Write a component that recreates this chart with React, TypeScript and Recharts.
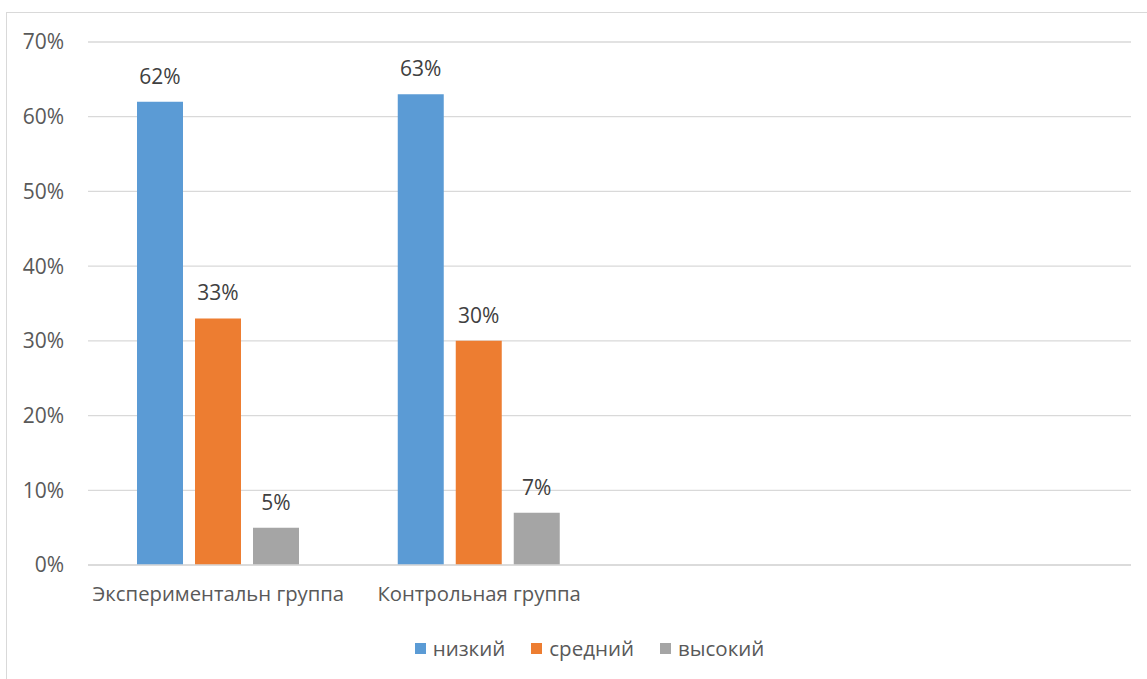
import { BarChart, Bar, XAxis, YAxis, CartesianGrid, LabelList } from "recharts";

// categories (the last two are empty slots in the source sheet)
const categories = ["Экспериментальн группа", "Контрольная группа", "", ""];
const low = [62, 63, null, null];
const medium = [33, 30, null, null];
const high = [5, 7, null, null];
const yTicks = [0, 10, 20, 30, 40, 50, 60, 70];

const series = [
  { key: "low", name: "низкий", color: "#5b9bd5" },
  { key: "medium", name: "средний", color: "#ed7d31" },
  { key: "high", name: "высокий", color: "#a5a5a5" },
];

const data = categories.map((c, i) => ({
  category: c,
  low: low[i],
  medium: medium[i],
  high: high[i],
}));

const FONT = "'Open Sans', sans-serif";
const TEXT = "#595959";

const pct = (v: unknown) => (v == null ? "" : `${v}%`);

function LegendBox() {
  return (
    <div
      style={{
        position: "absolute",
        left: 32,
        top: 634,
        width: 1115,
        display: "flex",
        justifyContent: "center",
        alignItems: "center",
        fontFamily: FONT,
        fontSize: 20.5,
        color: TEXT,
        gap: 26,
      }}
    >
      {series.map((s) => (
        <div key={s.key} style={{ display: "flex", alignItems: "center" }}>
          <span
            style={{ width: 11, height: 11, background: s.color, marginRight: 7, display: "inline-block" }}
          />
          <span>{s.name}</span>
        </div>
      ))}
    </div>
  );
}

export default function App() {
  return (
    <div
      style={{
        position: "fixed",
        left: 0,
        top: 0,
        width: 1147,
        height: 679,
        overflow: "hidden",
        background: "#fff",
      }}
    >
      <div
        style={{
          position: "absolute",
          left: 6,
          top: 12,
          width: 1200,
          height: 700,
          border: "1px solid #d9d9d9",
        }}
      />
      <div style={{ position: "absolute", left: 0, top: 0 }}>
        <BarChart
          width={1147}
          height={679}
          data={data}
          margin={{ top: 42, right: 16, bottom: 0, left: 0 }}
          barGap={12}
        >
          <CartesianGrid vertical={false} stroke="#d9d9d9" strokeWidth={1.3} />
          <XAxis
            dataKey="category"
            axisLine={{ stroke: "#d9d9d9", strokeWidth: 1.3 }}
            tickLine={false}
            tickSize={0}
            tickMargin={22}
            height={114}
            interval={0}
            tick={{ fontSize: 20.3, fill: TEXT, fontFamily: FONT }}
          />
          <YAxis
            width={88}
            domain={[0, 70]}
            ticks={yTicks}
            tickFormatter={(v: number) => `${v}%`}
            axisLine={false}
            tickLine={false}
            tickSize={0}
            tickMargin={24}
            tick={{ fontSize: 21, fill: TEXT, fontFamily: FONT }}
          />
          {series.map((s) => (
            <Bar
              key={s.key}
              dataKey={s.key}
              name={s.name}
              fill={s.color}
              barSize={46}
              isAnimationActive={false}
            >
              <LabelList
                dataKey={s.key}
                position="top"
                offset={18}
                formatter={pct}
                style={{ fontSize: 21, fill: "#404040", fontFamily: FONT }}
              />
            </Bar>
          ))}
        </BarChart>
      </div>
      <LegendBox />
    </div>
  );
}
